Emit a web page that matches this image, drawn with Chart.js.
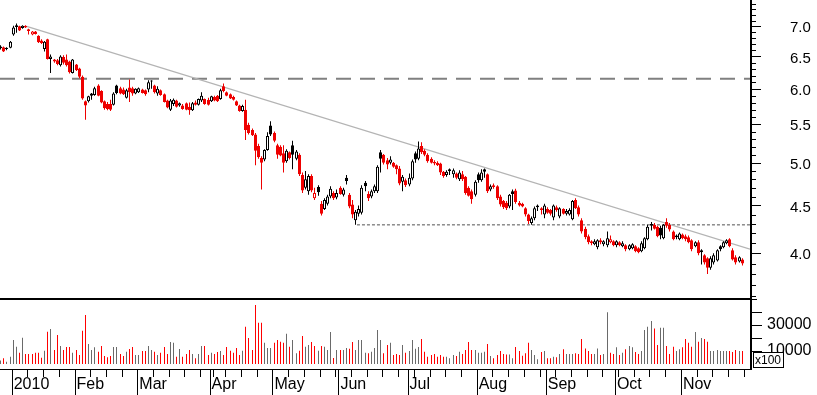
<!DOCTYPE html>
<html>
<head>
<meta charset="utf-8">
<script src="https://cdn.jsdelivr.net/npm/chart.js@4.4.1/dist/chart.umd.min.js"></script>
<style>
  html, body { margin: 0; padding: 0; background: #fff; }
  #wrap { position: relative; width: 817px; height: 395px; overflow: hidden; }
  #priceChart { position: absolute; left: 0; top: 0; }
  #volumeChart { position: absolute; left: 0; top: 299px; }
</style>
</head>
<body>
<div id="wrap">
  <canvas id="priceChart" width="817" height="299"></canvas>
  <canvas id="volumeChart" width="817" height="96"></canvas>
</div>
<script>
// daily prices, 23 Dec 2009 .. 26 Nov 2010 (one row per month)
const open = [
  6.66, 6.65, 6.64, 6.64,
  6.86, 7.02, 7.00, 6.97, 7.01, 6.95, 6.86, 6.91, 6.84, 6.76, 6.62, 6.78, 6.46, 6.45, 6.44, 6.36, 6.49, 6.45, 6.42, 6.24,
  6.37, 6.31, 6.18, 5.82, 5.82, 5.93, 5.91, 6.05, 5.97, 5.82, 5.78, 5.78, 5.77, 6.05, 6.01, 5.99, 5.87, 6.02, 6.01, 5.93,
  5.95, 5.99, 5.98, 5.99, 6.12, 6.05, 5.93, 5.98, 5.92, 5.83, 5.70, 5.78, 5.83, 5.76, 5.76, 5.79, 5.74, 5.69, 5.80, 5.77, 5.83, 5.85, 5.84,
  5.82, 5.88, 5.90, 5.85, 6.04, 5.95, 5.92, 5.88, 5.82, 5.76, 5.68, 5.70, 5.49, 5.42, 5.36, 5.21, 5.06, 5.04, 5.16, 5.48,
  5.38, 5.22, 5.20, 5.12, 5.02, 5.13, 5.22, 5.05, 5.10, 4.85, 4.70, 4.66, 4.84, 4.58, 4.71, 4.52, 4.46, 4.52, 4.60, 4.64, 4.59,
  4.70, 4.62, 4.82, 4.62, 4.51, 4.34, 4.41, 4.42, 4.76, 4.63, 4.60, 4.66, 4.66, 5.13, 5.10, 5.03, 5.00, 5.00, 4.97, 4.93, 4.77, 4.79,
  4.74, 4.81, 5.12, 5.05, 5.21, 5.15, 5.10, 5.05, 5.01, 5.00, 4.99, 4.89, 4.85, 4.92, 4.86, 4.87, 4.80, 4.86, 4.83, 4.70, 4.66, 4.62,
  4.86, 4.79, 4.92, 4.86, 4.68, 4.73, 4.72, 4.60, 4.55, 4.53, 4.49, 4.66, 4.67, 4.53, 4.52, 4.47, 4.40, 4.31, 4.36, 4.50, 4.47, 4.40,
  4.46, 4.45, 4.37, 4.48, 4.38, 4.46, 4.41, 4.40, 4.35, 4.56, 4.48, 4.34, 4.25, 4.17, 4.12, 4.09, 4.06, 4.13, 4.09, 4.08, 4.11, 4.12,
  4.08, 4.11, 4.07, 4.08, 4.04, 4.05, 4.07, 4.05, 4.02, 4.05, 4.14, 4.30, 4.29, 4.27, 4.26, 4.15, 4.32, 4.29, 4.22, 4.18, 4.14,
  4.19, 4.17, 4.16, 4.13, 4.07, 4.11, 4.03, 3.98, 3.95, 3.86, 3.91, 3.93, 4.07, 4.06, 4.10, 4.14, 4.03, 3.96, 3.92, 3.94
];
const high = [
  6.68, 6.66, 6.65, 6.75,
  7.01, 7.05, 7.01, 7.02, 7.02, 6.96, 6.92, 6.92, 6.85, 6.78, 6.75, 6.79, 6.53, 6.46, 6.46, 6.52, 6.52, 6.53, 6.43, 6.46,
  6.38, 6.32, 6.20, 5.83, 5.90, 5.94, 6.03, 6.07, 5.98, 5.83, 5.81, 5.84, 5.95, 6.06, 6.03, 6.02, 6.00, 6.14, 6.03, 6.01,
  6.02, 6.00, 5.99, 6.13, 6.13, 6.06, 6.04, 5.99, 5.93, 5.84, 5.85, 5.86, 5.84, 5.80, 5.78, 5.80, 5.80, 5.81, 5.83, 5.86, 5.95, 5.86, 5.87,
  5.90, 5.90, 5.91, 6.00, 6.08, 5.96, 5.93, 5.90, 5.83, 5.77, 5.77, 5.84, 5.52, 5.44, 5.38, 5.24, 5.08, 5.17, 5.39, 5.54,
  5.40, 5.24, 5.22, 5.22, 5.17, 5.14, 5.28, 5.16, 5.12, 4.88, 4.90, 4.86, 4.86, 4.70, 4.73, 4.55, 4.58, 4.62, 4.72, 4.66, 4.68,
  4.72, 4.70, 4.85, 4.64, 4.56, 4.45, 4.50, 4.73, 4.78, 4.66, 4.68, 4.74, 4.97, 5.16, 5.11, 5.06, 5.08, 5.01, 4.98, 4.96, 4.85, 4.81,
  4.87, 5.04, 5.14, 5.27, 5.26, 5.17, 5.12, 5.07, 5.03, 5.02, 5.00, 4.90, 4.91, 4.93, 4.93, 4.88, 4.91, 4.90, 4.84, 4.72, 4.68, 4.79,
  4.88, 4.92, 4.93, 4.87, 4.74, 4.75, 4.73, 4.62, 4.56, 4.55, 4.63, 4.68, 4.69, 4.55, 4.53, 4.48, 4.41, 4.38, 4.49, 4.51, 4.48, 4.52,
  4.48, 4.46, 4.51, 4.50, 4.48, 4.47, 4.46, 4.47, 4.56, 4.58, 4.50, 4.36, 4.27, 4.19, 4.13, 4.14, 4.14, 4.15, 4.13, 4.22, 4.18, 4.13,
  4.13, 4.12, 4.12, 4.09, 4.09, 4.10, 4.08, 4.06, 4.12, 4.16, 4.29, 4.32, 4.31, 4.28, 4.28, 4.30, 4.36, 4.31, 4.23, 4.19, 4.21,
  4.20, 4.19, 4.18, 4.14, 4.12, 4.13, 4.04, 3.99, 3.96, 3.97, 4.00, 4.04, 4.08, 4.12, 4.14, 4.15, 4.05, 3.98, 3.97, 3.95
];
const low = [
  6.61, 6.57, 6.60, 6.63,
  6.84, 6.89, 6.92, 6.96, 6.97, 6.86, 6.85, 6.86, 6.72, 6.70, 6.58, 6.45, 6.24, 6.40, 6.36, 6.34, 6.37, 6.34, 6.23, 6.23,
  6.27, 6.16, 5.84, 5.56, 5.80, 5.84, 5.90, 5.89, 5.79, 5.70, 5.69, 5.68, 5.76, 5.92, 5.92, 5.91, 5.86, 5.81, 5.90, 5.92,
  5.94, 5.93, 5.90, 5.95, 6.00, 5.93, 5.90, 5.90, 5.80, 5.72, 5.68, 5.75, 5.73, 5.74, 5.70, 5.69, 5.63, 5.68, 5.76, 5.76, 5.81, 5.77, 5.76,
  5.81, 5.82, 5.81, 5.84, 5.95, 5.89, 5.85, 5.83, 5.75, 5.67, 5.67, 5.29, 5.36, 5.34, 4.97, 5.05, 4.68, 5.02, 5.15, 5.34,
  5.26, 5.05, 5.08, 4.88, 5.00, 5.04, 4.92, 5.03, 4.84, 4.64, 4.68, 4.62, 4.65, 4.56, 4.61, 4.39, 4.45, 4.50, 4.58, 4.56, 4.57,
  4.62, 4.60, 4.74, 4.47, 4.36, 4.29, 4.38, 4.40, 4.66, 4.55, 4.58, 4.64, 4.64, 4.88, 4.98, 4.92, 4.98, 4.94, 4.86, 4.73, 4.66, 4.71,
  4.72, 4.79, 5.00, 5.03, 5.11, 5.08, 5.00, 4.99, 4.97, 4.96, 4.85, 4.82, 4.83, 4.85, 4.82, 4.80, 4.78, 4.78, 4.62, 4.60, 4.52, 4.60,
  4.76, 4.77, 4.82, 4.64, 4.66, 4.69, 4.56, 4.49, 4.46, 4.45, 4.47, 4.45, 4.52, 4.49, 4.48, 4.38, 4.30, 4.29, 4.34, 4.44, 4.40, 4.36,
  4.41, 4.39, 4.34, 4.43, 4.36, 4.40, 4.39, 4.39, 4.34, 4.46, 4.38, 4.20, 4.14, 4.09, 4.08, 4.08, 4.04, 4.09, 4.07, 4.06, 4.10, 4.07,
  4.06, 4.07, 4.06, 4.02, 4.03, 4.04, 4.01, 4.00, 4.01, 4.04, 4.13, 4.23, 4.24, 4.16, 4.14, 4.14, 4.26, 4.22, 4.13, 4.14, 4.13,
  4.14, 4.12, 4.10, 4.02, 4.06, 3.98, 3.89, 3.89, 3.80, 3.84, 3.89, 3.92, 4.02, 4.05, 4.09, 4.06, 3.93, 3.89, 3.91, 3.88
];
const close = [
  6.63, 6.58, 6.62, 6.74,
  6.98, 6.99, 6.93, 7.01, 6.98, 6.92, 6.91, 6.87, 6.73, 6.72, 6.74, 6.46, 6.50, 6.42, 6.38, 6.50, 6.40, 6.36, 6.25, 6.45,
  6.28, 6.18, 5.86, 5.76, 5.89, 5.90, 6.01, 5.90, 5.80, 5.72, 5.71, 5.70, 5.93, 5.94, 5.93, 5.92, 5.98, 5.95, 5.93, 6.00,
  6.01, 5.94, 5.92, 6.10, 6.11, 5.95, 6.00, 5.91, 5.81, 5.73, 5.83, 5.84, 5.74, 5.79, 5.71, 5.70, 5.69, 5.79, 5.77, 5.85, 5.90, 5.78, 5.77,
  5.89, 5.83, 5.82, 5.98, 5.97, 5.90, 5.86, 5.84, 5.76, 5.68, 5.75, 5.42, 5.38, 5.35, 5.15, 5.07, 5.00, 5.16, 5.34, 5.36,
  5.28, 5.10, 5.09, 5.00, 5.15, 5.06, 5.10, 5.14, 4.86, 4.67, 4.80, 4.84, 4.67, 4.64, 4.65, 4.41, 4.56, 4.60, 4.69, 4.58, 4.64,
  4.63, 4.68, 4.78, 4.49, 4.40, 4.43, 4.46, 4.70, 4.72, 4.58, 4.66, 4.72, 4.95, 5.05, 5.00, 4.98, 5.04, 4.95, 4.92, 4.75, 4.83, 4.73,
  4.82, 5.02, 5.04, 5.18, 5.13, 5.10, 5.02, 5.00, 4.99, 4.97, 4.88, 4.84, 4.89, 4.90, 4.91, 4.82, 4.88, 4.80, 4.64, 4.61, 4.57, 4.77,
  4.79, 4.88, 4.89, 4.66, 4.72, 4.71, 4.58, 4.51, 4.48, 4.47, 4.62, 4.63, 4.54, 4.50, 4.49, 4.40, 4.33, 4.36, 4.47, 4.48, 4.45, 4.50,
  4.42, 4.41, 4.50, 4.45, 4.47, 4.41, 4.44, 4.45, 4.55, 4.47, 4.40, 4.22, 4.16, 4.11, 4.10, 4.12, 4.13, 4.11, 4.12, 4.15, 4.14, 4.08,
  4.12, 4.08, 4.10, 4.04, 4.08, 4.09, 4.02, 4.01, 4.10, 4.15, 4.27, 4.28, 4.25, 4.17, 4.18, 4.29, 4.28, 4.24, 4.14, 4.16, 4.20,
  4.15, 4.14, 4.11, 4.04, 4.11, 4.00, 4.01, 3.91, 3.86, 3.95, 3.98, 4.03, 4.04, 4.11, 4.13, 4.07, 3.94, 3.91, 3.96, 3.90
];
// volume in units of 100 shares
const volume = [
  2600, 4400, 1800, 5600,
  18400, 13300, 8700, 20200, 7700, 7700, 7700, 8700, 8700, 4900, 10200, 24800, 26900, 10800, 22300, 13800, 10800, 13100, 13100, 8700,
  10800, 6900, 25600, 37600, 15400, 10800, 12800, 9500, 13800, 6100, 5100, 6100, 13100, 13100, 7700, 6100, 9500, 11500, 13100, 6900,
  6900, 10000, 10000, 13800, 10800, 9500, 6900, 8700, 13100, 7700, 16900, 16400, 5600, 11500, 5600, 7700, 10800, 7700, 4400, 7700, 13800, 13800, 6900,
  8700, 7700, 9200, 10000, 6900, 13100, 10200, 8700, 12300, 6900, 10200, 28700, 20000, 10800, 45300, 31700, 31700, 16400, 12300, 12300,
  16400, 18400, 17200, 16400, 23300, 13300, 18400, 8200, 10200, 21500, 13300, 14600, 16900, 13800, 10200, 13800, 13300, 10800, 24600, 4600, 10800,
  10800, 10800, 12300, 11800, 16900, 10800, 18400, 18400, 8700, 8200, 9500, 12300, 26100, 18400, 8200, 14600, 16400, 6900, 7700, 6900, 14600, 8700,
  10000, 18400, 11800, 13100, 19200, 9500, 5600, 6900, 7700, 5600, 6900, 5600, 5600, 4400, 6900, 6100, 9500, 7700, 10800, 16900, 10800, 10800,
  8700, 8700, 9500, 15400, 6100, 4400, 6900, 10000, 7700, 7400, 7400, 4400, 13100, 10000, 6400, 8200, 16400, 10800, 6900, 3600, 9200, 10000,
  4400, 4400, 5600, 5100, 7700, 11300, 7700, 7700, 7700, 8200, 7700, 19200, 12000, 10000, 7700, 7700, 12000, 6900, 7700, 39900, 8700, 7700,
  12800, 6900, 8700, 11300, 13800, 12800, 9200, 7700, 10000, 26100, 28700, 33000, 27400, 14600, 27900, 27900, 13800, 7700, 13300, 10000, 11300,
  12800, 19200, 16400, 13300, 24600, 17200, 20000, 19200, 17200, 10000, 10000, 10800, 10000, 10000, 10000, 10000, 9200, 10800, 10000, 10000
];

// time axis: trading-day index of first day of each month / week
const monthStarts = [4, 24, 44, 67, 87, 108, 130, 152, 174, 196, 217];
const monthLabels = ['2010', 'Feb', 'Mar', 'Apr', 'May', 'Jun', 'Jul', 'Aug', 'Sep', 'Oct', 'Nov'];
const weekStarts = [4, 9, 14, 19, 24, 29, 34, 39, 44, 49, 54, 59, 64, 68, 72, 77, 82, 87, 92, 97, 102, 107, 112, 117,
  122, 127, 132, 137, 142, 147, 152, 157, 162, 167, 172, 177, 182, 187, 192, 197, 202, 207, 212, 217, 222, 227, 232, 237];

const priceTicks = [4.0, 4.5, 5.0, 5.5, 6.0, 6.5, 7.0];
const priceMinorTicks = [3.6, 3.7, 3.8, 3.9, 4.0, 4.1, 4.2, 4.3, 4.4, 4.5, 4.6, 4.7, 4.8, 4.9, 5.0, 5.1, 5.2, 5.3, 5.4,
  5.5, 5.6, 5.7, 5.8, 5.9, 6.0, 6.1, 6.2, 6.3, 6.4, 6.5, 6.6, 6.7, 6.8, 6.9, 7.0, 7.1, 7.2, 7.3, 7.4];
const volumeTicks = [10000, 30000];
const volumeMarks = [10000, 20000, 30000, 40000, 50000];

// drawn studies
const trendX = [8.78, 239.0];
const trendY = [7.00, 4.04];
const resistanceLevel = 6.15;
const supportLevel = 4.29;
const supportFrom = 113.9;

const X_MIN = 0.28, X_MAX = 239.0;
const FONT = "'Liberation Sans', Arial, sans-serif";
const RED = '#ee0000';
const BLACK = '#000000';

const candleColor = close.map((c, i) => (i > 0 && c < close[i - 1]) ? RED : BLACK);
const bodyFill = close.map((c, i) => c >= open[i] ? '#ffffff' : candleColor[i]);
const volumeColor = candleColor.map(c => c === RED ? '#ff0000' : '#6a6a6a');

function fixedWidth(w) {
  return s => { s.width = w; s.paddingTop = 0; s.paddingBottom = 0; };
}

// snap thin bars onto whole pixels so they draw crisp like the original
const pixelSnap = {
  id: 'pixelSnap',
  beforeDatasetsDraw(chart) {
    chart.getSortedVisibleDatasetMetas().forEach(meta => {
      if (meta.type !== 'bar') return;
      meta.data.forEach(el => { el.x = Math.floor(el.x) + 0.5; });
    });
  }
};

const priceFrame = {
  id: 'priceFrame',
  afterDraw(chart) {
    const {ctx, chartArea: a, scales: {y}} = chart;
    const ax = a.right + 1;
    ctx.save();
    ctx.strokeStyle = '#000';
    ctx.lineWidth = 1;
    ctx.beginPath();
    ctx.moveTo(0, a.bottom + 0.5);
    ctx.lineTo(ax + 1, a.bottom + 0.5);
    priceMinorTicks.forEach(v => {
      const py = Math.round(y.getPixelForValue(v)) + 0.5;
      const len = priceTicks.some(t => Math.abs(t - v) < 1e-6) ? 10 : 5;
      ctx.moveTo(ax, py);
      ctx.lineTo(ax + len, py);
    });
    ctx.stroke();
    ctx.lineWidth = 2;
    ctx.beginPath();
    ctx.moveTo(ax, 0);
    ctx.lineTo(ax, a.bottom + 1);
    ctx.stroke();
    ctx.restore();
  }
};

const volumeFrame = {
  id: 'volumeFrame',
  afterDraw(chart) {
    const {ctx, chartArea: a, scales: {x, y}} = chart;
    const ax = a.right + 1;
    ctx.save();
    ctx.strokeStyle = '#000';
    ctx.lineWidth = 1;
    ctx.beginPath();
    ctx.moveTo(0, a.top + 0.5);
    ctx.lineTo(ax + 1, a.top + 0.5);
    ctx.moveTo(0, a.bottom + 0.5);
    ctx.lineTo(ax + 1, a.bottom + 0.5);
    weekStarts.forEach(d => {
      const px = Math.round(x.getPixelForValue(d)) + 0.5;
      ctx.moveTo(px, a.bottom);
      ctx.lineTo(px, a.bottom + 8);
    });
    monthStarts.forEach(d => {
      const px = Math.round(x.getPixelForValue(d)) + 0.5;
      ctx.moveTo(px, a.bottom);
      ctx.lineTo(px, chart.height);
    });
    volumeMarks.forEach(v => {
      const py = Math.round(y.getPixelForValue(v)) + 0.5;
      ctx.moveTo(ax, py);
      ctx.lineTo(ax + (v === 50000 ? 6 : 11), py);
    });
    ctx.stroke();
    ctx.lineWidth = 2;
    ctx.beginPath();
    ctx.moveTo(ax, 0);
    ctx.lineTo(ax, a.bottom + 1);
    ctx.stroke();
    // unit box
    const bx = ax + 2, by = a.bottom - 17;
    ctx.fillStyle = '#fff';
    ctx.fillRect(bx, by, 31, 16);
    ctx.lineWidth = 1;
    ctx.strokeRect(bx + 0.5, by + 0.5, 30, 15);
    ctx.fillStyle = '#000';
    ctx.font = '12px ' + FONT;
    ctx.textBaseline = 'middle';
    ctx.fillText('x100', bx + 2, by + 9);
    ctx.restore();
  }
};

const priceChart = new Chart(document.getElementById('priceChart'), {
  type: 'bar',
  data: {
    datasets: [
      {
        type: 'line',
        data: [{x: X_MIN, y: resistanceLevel}, {x: X_MAX, y: resistanceLevel}],
        borderColor: '#808080', borderWidth: 2, borderDash: [15, 9],
        pointRadius: 0, fill: false, order: 5
      },
      {
        type: 'line',
        data: [{x: supportFrom, y: supportLevel}, {x: X_MAX, y: supportLevel}],
        borderColor: '#505050', borderWidth: 1, borderDash: [3, 2],
        pointRadius: 0, fill: false, order: 4
      },
      {
        type: 'line',
        data: trendX.map((v, i) => ({x: v, y: trendY[i]})),
        borderColor: '#b4b4b4', borderWidth: 1.2,
        pointRadius: 0, fill: false, order: 3
      },
      {
        label: 'wick',
        data: high.map((h, i) => ({x: i + 0.5, y: [low[i], h]})),
        backgroundColor: candleColor,
        barThickness: 1, grouped: false, inflateAmount: 0, order: 2
      },
      {
        label: 'body',
        data: open.map((o, i) => ({x: i + 0.5, y: [o, close[i]]})),
        backgroundColor: bodyFill,
        borderColor: candleColor,
        borderWidth: 1, borderSkipped: false, minBarLength: 1,
        barThickness: 3, grouped: false, inflateAmount: 0, order: 1
      }
    ]
  },
  options: {
    responsive: false,
    animation: false,
    devicePixelRatio: 1,
    events: [],
    layout: { padding: {left: 0, top: 0, right: 0, bottom: 1}, autoPadding: false },
    plugins: { legend: { display: false }, tooltip: { enabled: false } },
    scales: {
      x: { type: 'linear', min: X_MIN, max: X_MAX, offset: false, display: false },
      y: {
        type: 'logarithmic', position: 'right', min: 3.582, max: 7.47, bounds: 'data',
        afterBuildTicks: s => { s.ticks = priceTicks.map(v => ({value: v})); },
        afterFit: fixedWidth(67),
        grid: { display: false, drawTicks: false },
        border: { display: false },
        ticks: {
          autoSkip: false, padding: 40, labelOffset: 2, color: '#000',
          font: { family: FONT, size: 15 },
          callback: v => Number(v).toFixed(1)
        }
      }
    }
  },
  plugins: [pixelSnap, priceFrame]
});

const volumeChart = new Chart(document.getElementById('volumeChart'), {
  type: 'bar',
  data: {
    datasets: [{
      data: volume.map((v, i) => ({x: i + 0.5, y: v})),
      backgroundColor: volumeColor,
      barThickness: 1, inflateAmount: 0
    }]
  },
  options: {
    responsive: false,
    animation: false,
    devicePixelRatio: 1,
    events: [],
    layout: { padding: 0, autoPadding: false },
    plugins: { legend: { display: false }, tooltip: { enabled: false } },
    scales: {
      x: {
        type: 'linear', min: X_MIN, max: X_MAX, offset: false,
        afterBuildTicks: s => { s.ticks = monthStarts.map(v => ({value: v})); },
        afterFit: s => { s.height = 26; s.paddingLeft = 0; s.paddingRight = 0; },
        grid: { display: false, drawTicks: false },
        border: { display: false },
        ticks: {
          autoSkip: false, maxRotation: 0, minRotation: 0, align: 'start', labelOffset: 2,
          padding: 6, color: '#000', font: { family: FONT, size: 16 },
          callback: (v, i) => monthLabels[i]
        }
      },
      y: {
        type: 'linear', position: 'right', min: -3850, max: 50000,
        afterBuildTicks: s => { s.ticks = volumeTicks.map(v => ({value: v})); },
        afterFit: fixedWidth(67),
        grid: { display: false, drawTicks: false },
        border: { display: false },
        ticks: {
          autoSkip: false, padding: 17, color: '#000',
          font: { family: FONT, size: 16 },
          callback: v => String(v)
        }
      }
    }
  },
  plugins: [pixelSnap, volumeFrame]
});
</script>
</body>
</html>
